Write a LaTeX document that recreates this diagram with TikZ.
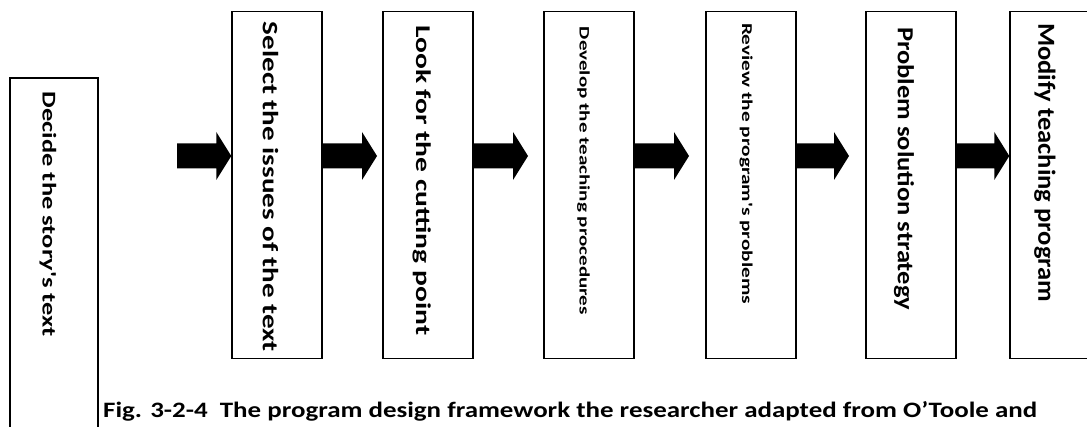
\documentclass[tikz,border=0pt]{standalone}
\usepackage{fontspec}
\usepackage{graphicx}
\setmainfont{Carlito}
% straight apostrophes inside the step boxes
\newfontfamily\stepfont{Carlito}[Ligatures=TeXOff]
\usetikzlibrary{calc}

% #1 font size, #2 printed length, #3 text
\newcommand\steplabel[3]{\resizebox{#2pt}{\height}{\fontsize{#1}{#1}\selectfont\stepfont\bfseries #3}}

% thick block arrow on the common axis, from #1 to the tip at #2
\newcommand\flowarrow[2]{%
  \fill let \p1=(#1 |- axis), \p2=(#2 |- axis) in
    (\x1,\y1+12.5pt) -- (\x2-15pt,\y1+12.5pt) -- (\x2-15pt,\y1+24pt) -- (\x2,\y1)
    -- (\x2-15pt,\y1-24pt) -- (\x2-15pt,\y1-12.5pt) -- (\x1,\y1-12.5pt) -- cycle;}

\begin{document}
\begin{tikzpicture}[x=1pt,y=1pt,
  stepbox/.style={draw, line width=1.4pt, rectangle, inner sep=0pt,
    minimum width=90pt, minimum height=347pt},
  steptext/.style={rotate=-90, anchor=west, inner sep=0pt}]
\useasboundingbox (0,0) rectangle (1087,426);
\coordinate (axis) at (0,270);

% boxes
\node[stepbox, minimum width=88pt, minimum height=392pt] (decide) at (54,152) {};
\node[stepbox] (select)  at (277,241) {};
\node[stepbox] (look)    at (428,241) {};
\node[stepbox] (develop) at (589,241) {};
\node[stepbox] (review)  at (751,241) {};
\node[stepbox] (problem) at (911,241) {};
\node[stepbox] (modify)  at (1055,241) {};

% vertical labels
\node[steptext] (tdecide)  at (48,334.3)    {\steplabel{19.5}{245}{Decide the story's text}};
\node[steptext] (tselect)  at (270.5,404.3) {\steplabel{22}{330}{Select the issues of the text}};
\node[steptext] (tlook)    at (422.5,401)   {\steplabel{21}{310}{Look for the cutting point}};
\node[steptext] (tdevelop) at (583.5,399.3) {\steplabel{14.5}{288}{Develop the teaching procedures}};
\node[steptext] (treview)  at (746,403)     {\steplabel{15}{281}{Review the program's problems}};
\node[steptext] (tproblem) at (904,399)     {\steplabel{23}{283}{Problem solution strategy}};
\node[steptext] (tmodify)  at (1045,403)    {\steplabel{24.5}{279}{Modify teaching program}};

% arrows
\coordinate (tail1) at (177,270);
\coordinate (tip2) at (377,270);
\coordinate (tip3) at (528,270);
\coordinate (tip4) at (689,270);
\coordinate (tip5) at (849,270);
\flowarrow{tail1}{select.west}
\flowarrow{select.east}{tip2}
\flowarrow{look.east}{tip3}
\flowarrow{develop.east}{tip4}
\flowarrow{review.east}{tip5}
\flowarrow{problem.east}{modify.west}

% caption
\node[anchor=base west, inner sep=0pt] (caption) at (103,9)
  {\resizebox{934pt}{\height}{\fontsize{22}{26}\selectfont\bfseries Fig. 3-2-4\ \ The program design framework the researcher adapted from O’Toole and}};
\end{tikzpicture}
\end{document}
